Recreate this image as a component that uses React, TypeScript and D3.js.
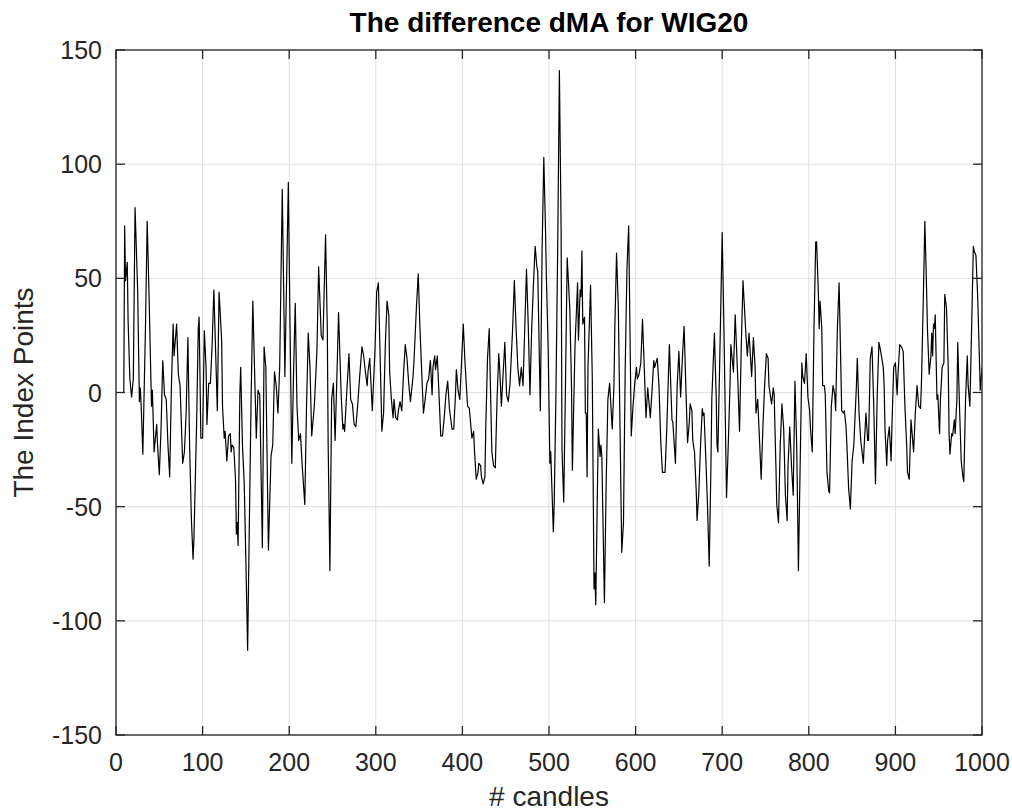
import React from "react";
import * as d3 from "d3";

// tick labels
const xTicks = [0, 100, 200, 300, 400, 500, 600, 700, 800, 900, 1000];
const yTicks = [-150, -100, -50, 0, 50, 100, 150];

// dMA: [candle, index points]
const dmaPoints: [number, number][] = [
  [1, 0], [9, 0], [10, 73], [11, 49], [13, 57], [14, 31], [16, 6], [18, -2], [20, 6], [22, 81],
  [25, 45], [27, -4], [28, 2], [29, -5], [31, -27], [34, 28], [36, 75], [38, 45], [41, -6], [42, 1],
  [44, -26], [45, -22], [47, -14], [48, -23], [50, -36], [52, -16], [54, 14], [56, -1], [58, -3], [60, -23],
  [62, -37], [64, 3], [66, 30], [67, 16], [70, 30], [72, 8], [74, 3], [77, -31], [79, -26], [81, -9],
  [83, 24], [85, -23], [87, -55], [89, -73], [90, -64], [93, -15], [95, 28], [96, 33], [98, -20], [100, -20],
  [102, 27], [104, 11], [105, -14], [107, 4], [109, 4], [111, 21], [113, 45], [117, -8], [119, 44], [122, 23],
  [123, -6], [125, -20], [126, -17], [128, -30], [130, -19], [132, -18], [133, -26], [134, -23], [136, -24], [138, -38],
  [139, -62], [140, -57], [141, -67], [143, -1], [144, 11], [146, -23], [148, -39], [150, -74], [152, -113], [154, -57],
  [156, -3], [158, 40], [162, -20], [164, 1], [166, -1], [169, -68], [171, 20], [173, 11], [176, -69], [179, -28],
  [181, -23], [183, 9], [185, 3], [187, -9], [189, 11], [192, 89], [195, 7], [199, 92], [201, 28], [203, -31],
  [205, 8], [207, 39], [209, -6], [211, -21], [213, -18], [215, -32], [218, -49], [220, -6], [222, 26], [224, 11],
  [226, -19], [229, -6], [232, 18], [234, 55], [237, 25], [239, 23], [242, 69], [244, 28], [245, -23], [247, -78],
  [249, -3], [251, 4], [253, -21], [255, 6], [257, 35], [260, -1], [262, -16], [263, -14], [264, -17], [266, -3],
  [269, 17], [271, -3], [273, -5], [275, -14], [277, -15], [279, -6], [281, 5], [284, 20], [286, 16], [288, 9],
  [290, 3], [291, 9], [293, 15], [296, -8], [297, 1], [299, 18], [301, 44], [303, 48], [305, 16], [307, -17],
  [309, -9], [311, 21], [313, 40], [315, 34], [316, 9], [318, -3], [320, -11], [321, -3], [323, -11], [325, -12],
  [326, -8], [328, -4], [330, -8], [332, 8], [334, 21], [336, 15], [338, 4], [340, -4], [343, 7], [344, 13],
  [347, 38], [349, 52], [351, 28], [353, 9], [355, -9], [357, -3], [359, 4], [361, 6], [363, 14], [365, -1],
  [366, 11], [368, 16], [369, 10], [371, 16], [373, -1], [375, -19], [377, -19], [379, -11], [381, -1], [383, 5],
  [385, -7], [388, -16], [390, -16], [392, -1], [393, 10], [395, 1], [397, -3], [399, 13], [401, 30], [403, 13],
  [406, -6], [408, -7], [411, -20], [413, -17], [414, -26], [416, -38], [418, -35], [419, -31], [421, -32], [422, -37],
  [424, -40], [426, -37], [427, -15], [429, 15], [431, 28], [432, 9], [434, -26], [436, -32], [438, -33], [440, -3],
  [442, 17], [443, 11], [445, -6], [447, 8], [449, 22], [451, -1], [453, -4], [455, 4], [458, 28], [460, 49],
  [462, 28], [464, 11], [466, 3], [468, 11], [470, 3], [472, 28], [474, 54], [476, 30], [478, -1], [480, 28],
  [482, 47], [484, 64], [486, 55], [487, 53], [490, -8], [492, 62], [494, 103], [496, 71], [497, 50], [499, 20],
  [501, -31], [502, -26], [505, -61], [506, -49], [508, -1], [510, 62], [512, 141], [514, 71], [515, -25], [517, -48],
  [519, 3], [521, 59], [524, 37], [526, 3], [527, -34], [530, 20], [533, 48], [534, 23], [536, 45], [537, 42],
  [538, 62], [539, 30], [541, 33], [542, -9], [543, -9], [544, -37], [545, 11], [548, 47], [550, 6], [552, -86],
  [553, -79], [554, -93], [556, -40], [557, -16], [559, -28], [560, -23], [561, -28], [564, -92], [566, -40], [568, -3],
  [570, 4], [573, -16], [575, 3], [576, 28], [578, 61], [580, 38], [582, -15], [584, -70], [586, -57], [588, 11],
  [590, 54], [592, 73], [595, -19], [597, -6], [599, 4], [601, 11], [602, 6], [604, 8], [606, 13], [608, 32],
  [610, 11], [612, -11], [614, 2], [617, -11], [619, 1], [621, 14], [622, 11], [625, 15], [627, 3], [629, -21],
  [631, -35], [634, -35], [636, -16], [639, 21], [642, -12], [643, -13], [646, -31], [648, 3], [650, 18], [652, -2],
  [654, 15], [656, 29], [658, 3], [660, -22], [662, -13], [663, -5], [665, -8], [666, -21], [668, -26], [670, -43],
  [671, -56], [673, -44], [675, -23], [677, -7], [678, -10], [679, -9], [681, -28], [683, -49], [685, -76], [687, -32],
  [688, -3], [691, 26], [693, -1], [694, -23], [695, -26], [697, 11], [700, 70], [702, 28], [705, -46], [707, -23],
  [709, 3], [710, 21], [713, 9], [715, 34], [718, 6], [720, -17], [722, 20], [724, 49], [727, 28], [729, 16],
  [731, 26], [734, 7], [736, 24], [738, 11], [739, -9], [741, -3], [743, -20], [745, -38], [747, -15], [749, 3],
  [751, 17], [753, 15], [754, 3], [757, -5], [759, 2], [760, -1], [762, -32], [763, -49], [765, -57], [767, -23],
  [769, -5], [771, -16], [773, -45], [775, -56], [776, -32], [778, -15], [780, -32], [782, -45], [784, 5], [786, -23],
  [787, -49], [788, -78], [790, -32], [792, 13], [793, 7], [795, 4], [797, 17], [799, -2], [801, -8], [802, -16],
  [804, -26], [806, 28], [808, 66], [809, 66], [811, 44], [812, 28], [813, 40], [815, 28], [816, 3], [818, 3],
  [819, -1], [821, -35], [823, -43], [824, -44], [826, -6], [828, 3], [830, -1], [831, -8], [833, 28], [835, 48],
  [837, 11], [838, -8], [840, -9], [841, -8], [843, -15], [844, -23], [846, -42], [848, -51], [850, -30], [852, -23],
  [853, -14], [855, 3], [856, 15], [858, -9], [860, -21], [863, -31], [864, -23], [866, -9], [868, -21], [869, -21],
  [871, 15], [873, 20], [875, -6], [877, -40], [879, -1], [881, 22], [883, 18], [886, 11], [887, 3], [888, -16],
  [890, -32], [891, -21], [893, -15], [895, -30], [896, -15], [898, 11], [900, 13], [902, -1], [903, 8], [905, 21],
  [907, 20], [909, 18], [911, -6], [913, -23], [914, -35], [916, -38], [918, -12], [921, -26], [923, -9], [925, 3],
  [927, -6], [929, -7], [930, 3], [932, 37], [934, 75], [936, 45], [937, 28], [939, 8], [941, 16], [942, 26],
  [943, 16], [944, 30], [945, 28], [946, 34], [948, -3], [949, -1], [951, -18], [952, -3], [954, 11], [956, 13],
  [957, 43], [959, 37], [961, 11], [962, -18], [963, -27], [965, -18], [966, -19], [968, -12], [969, -18], [971, -3],
  [972, 22], [974, -6], [976, -30], [978, -37], [979, -39], [981, -3], [983, 16], [984, 3], [986, -6], [988, 28],
  [990, 64], [991, 62], [993, 60], [995, 42], [997, 15], [998, 1], [1000, 11],
];

const title = "The difference dMA for WIG20";
const xLabel = "# candles";
const yLabel = "The Index Points";

const width = 1012;
const height = 812;
const left = 116,
  right = 982,
  top = 50,
  bottom = 735;

const font = "'Liberation Sans', Arial, Helvetica, sans-serif";
const axisColor = "#262626";
const gridColor = "#dfdfdf";
const tickLen = 9;

const App = () => {
  const xScale = d3.scaleLinear().domain([0, 1000]).range([left, right]);
  const yScale = d3.scaleLinear().domain([-150, 150]).range([bottom, top]);

  const line = d3
    .line<[number, number]>()
    .x((d) => xScale(d[0]))
    .y((d) => yScale(d[1]));

  return (
    <svg
      width={width}
      height={height}
      style={{ position: "absolute", left: 0, top: 0, background: "#fff" }}
      fontFamily={font}
    >
      <rect x={0} y={0} width={width} height={height} fill="#fff" />
      <defs>
        <clipPath id="plot-area">
          <rect x={left} y={top} width={right - left} height={bottom - top} />
        </clipPath>
      </defs>

      {/* grid */}
      {xTicks.map((t) => (
        <line key={"gx" + t} x1={xScale(t)} x2={xScale(t)} y1={top} y2={bottom} stroke={gridColor} strokeWidth={1} />
      ))}
      {yTicks.map((t) => (
        <line key={"gy" + t} x1={left} x2={right} y1={yScale(t)} y2={yScale(t)} stroke={gridColor} strokeWidth={1} />
      ))}

      {/* series */}
      <path
        d={line(dmaPoints) || ""}
        fill="none"
        stroke="#000"
        strokeWidth={1.2}
        strokeLinejoin="round"
        clipPath="url(#plot-area)"
      />

      {/* box + ticks */}
      <rect x={left} y={top} width={right - left} height={bottom - top} fill="none" stroke={axisColor} strokeWidth={1.3} />
      {xTicks.map((t) => (
        <g key={"tx" + t}>
          <line x1={xScale(t)} x2={xScale(t)} y1={bottom} y2={bottom - tickLen} stroke={axisColor} strokeWidth={1.3} />
          <line x1={xScale(t)} x2={xScale(t)} y1={top} y2={top + tickLen} stroke={axisColor} strokeWidth={1.3} />
          <text x={xScale(t)} y={771} textAnchor="middle" fontSize={25} fill={axisColor}>
            {t}
          </text>
        </g>
      ))}
      {yTicks.map((t) => (
        <g key={"ty" + t}>
          <line x1={left} x2={left + tickLen} y1={yScale(t)} y2={yScale(t)} stroke={axisColor} strokeWidth={1.3} />
          <line x1={right} x2={right - tickLen} y1={yScale(t)} y2={yScale(t)} stroke={axisColor} strokeWidth={1.3} />
          <text x={102} y={yScale(t) + 9} textAnchor="end" fontSize={25} fill={axisColor}>
            {t}
          </text>
        </g>
      ))}

      {/* labels */}
      <text x={(left + right) / 2} y={32} textAnchor="middle" fontSize={28} fontWeight="bold" fill="#000">
        {title}
      </text>
      <text x={(left + right) / 2} y={806} textAnchor="middle" fontSize={28} fill={axisColor}>
        {xLabel}
      </text>
      <text
        transform={`translate(33,${(top + bottom) / 2}) rotate(-90)`}
        textAnchor="middle"
        fontSize={28}
        fill={axisColor}
      >
        {yLabel}
      </text>
    </svg>
  );
};

export default App;
